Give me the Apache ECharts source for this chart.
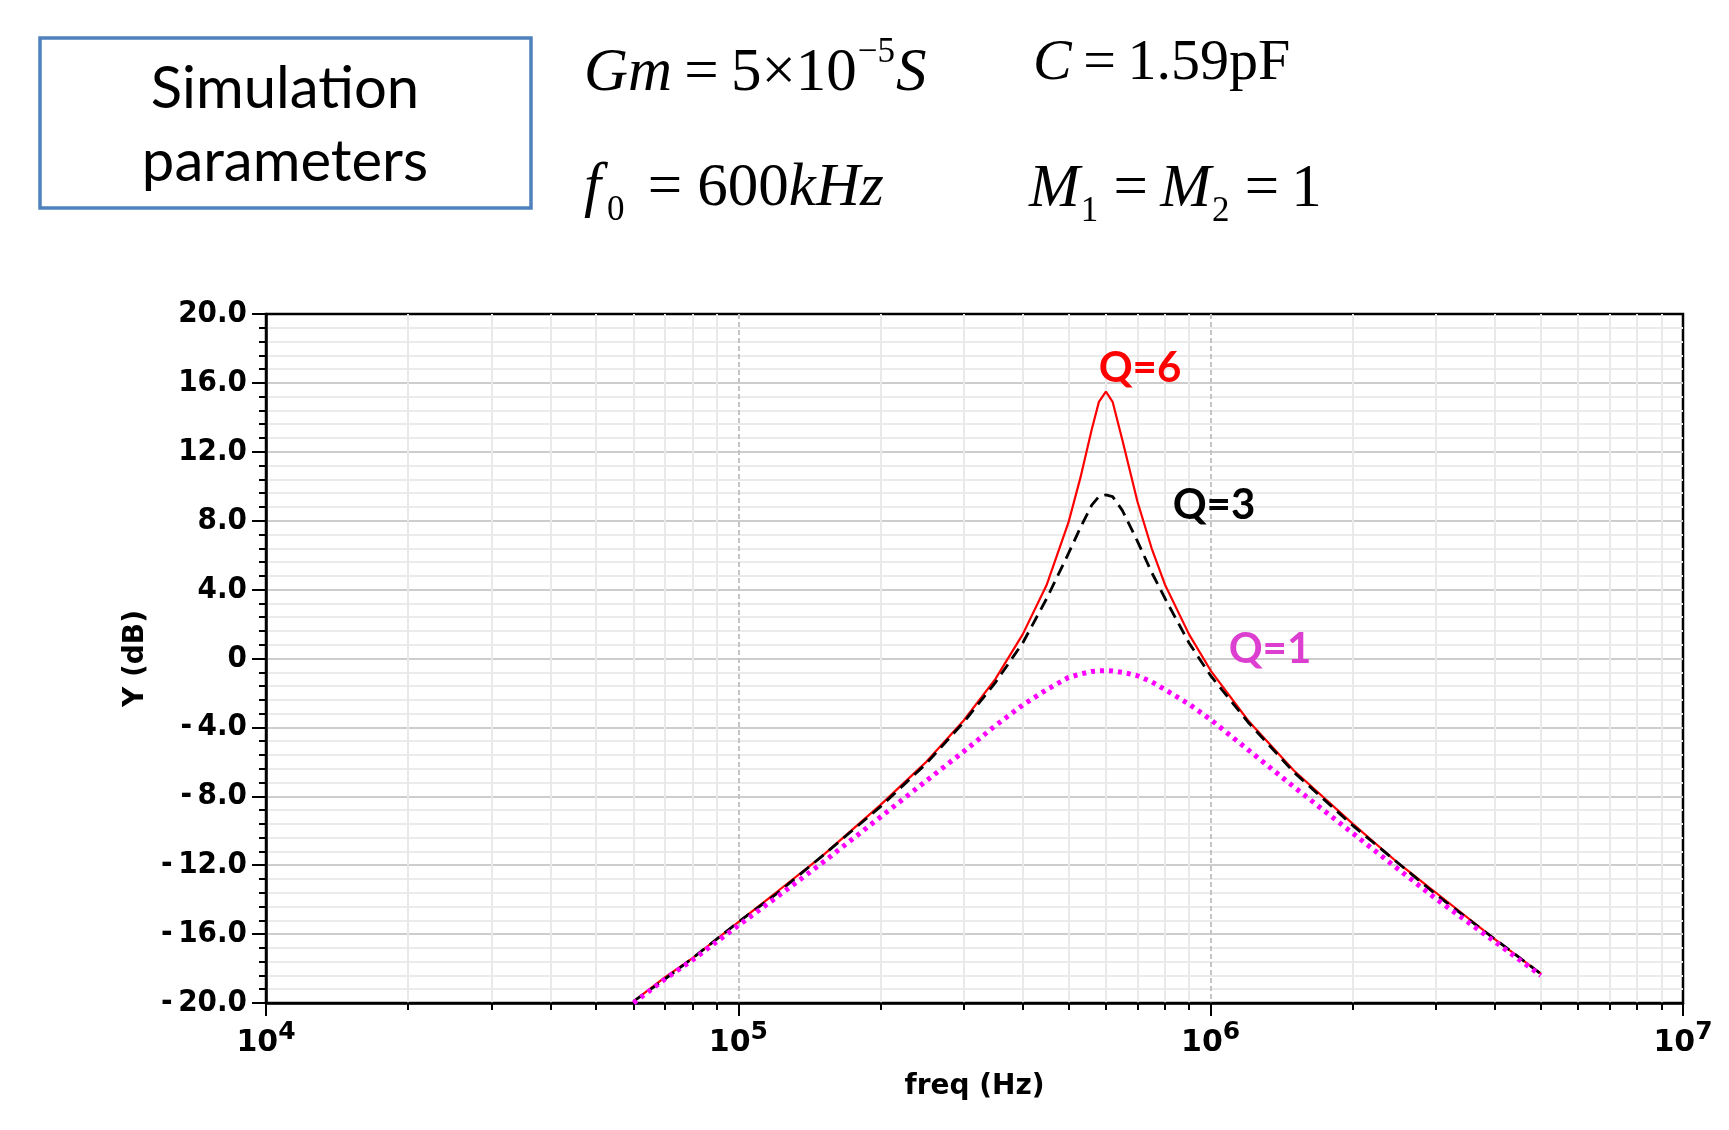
<!DOCTYPE html>
<html>
<head>
<meta charset="utf-8">
<title>Q response</title>
<script src="https://cdn.jsdelivr.net/npm/echarts@6/dist/echarts.min.js"></script>
<style>
html, body {margin:0; padding:0; background:#fff;}
#main {width:1729px; height:1130px;}
</style>
</head>
<body>
<div id="main"></div>
<script>
// frequency points (Hz)
var freqList = [6e4, 7e4, 8e4, 1e5, 1.2e5, 1.5e5, 2e5, 2.5e5, 3e5, 3.5e5, 4e5, 4.5e5, 5e5, 5.3e5, 5.6e5, 5.8e5,
	6e5, 6.2e5, 6.5e5, 7e5, 7.5e5, 8e5, 9e5, 1e6, 1.2e6, 1.5e6, 2e6, 2.5e6, 3e6, 4e6, 5e6];
// Y (dB)
var q6List = [-19.9, -18.5, -17.4, -15.3, -13.6, -11.5, -8.5, -6.0, -3.6, -1.2, 1.4, 4.3, 7.9, 10.5, 13.3, 14.9,
	15.5, 14.9, 12.7, 9.1, 6.4, 4.3, 1.4, -0.7, -3.6, -6.5, -9.6, -11.9, -13.6, -16.3, -18.3];
var q3List = [-19.9, -18.6, -17.4, -15.3, -13.7, -11.5, -8.6, -6.1, -3.7, -1.4, 0.9, 3.5, 6.1, 7.6, 8.9, 9.4,
	9.5, 9.4, 8.6, 6.8, 5.0, 3.5, 0.9, -1.0, -3.7, -6.6, -9.7, -11.9, -13.7, -16.3, -18.3];
var q1List = [-20.0, -18.6, -17.5, -15.5, -13.9, -11.9, -9.2, -7.1, -5.4, -3.9, -2.7, -1.8, -1.1, -0.9, -0.75, -0.72,
	-0.7, -0.72, -0.8, -1.0, -1.35, -1.8, -2.65, -3.55, -5.3, -7.45, -10.15, -12.25, -13.95, -16.45, -18.4];
var decadeList = [4, 5, 6];
var minorMantissa = [2, 3, 4, 5, 6, 7, 8, 9];

var COND_FONT = "'DejaVu Sans Condensed', 'DejaVu Sans', sans-serif";
var AXIS_FONT = "'DejaVu Sans', sans-serif";
var SERIF = "'Liberation Serif', 'DejaVu Serif', serif";
var LABEL_FONT = "Lato, 'Open Sans', sans-serif";

function toPairs(xs, ys) {
	return xs.map(function (x, i) { return [x, ys[i]]; });
}

// minor tick positions (log10 space) for the helper axis
var minorPos = [];
decadeList.forEach(function (d) {
	minorMantissa.forEach(function (m) { minorPos.push(d + Math.log10(m)); });
});

var myChart = echarts.init(document.getElementById('main'));

function rs(size, extra) {
	var o = {fontFamily: SERIF, fontSize: size, color: '#000'};
	for (var k in extra) o[k] = extra[k];
	return o;
}

var option = {
	backgroundColor: '#fff',
	animation: false,
	grid: {
		left: 266, top: 314, width: 1417, height: 689,
		show: true, borderColor: '#000', borderWidth: 2.5, backgroundColor: 'transparent'
	},
	xAxis: [
		{
			type: 'log', logBase: 10, min: 1e4, max: 1e7,
			name: 'freq (Hz)', nameLocation: 'middle', nameGap: 70,
			nameTextStyle: {fontFamily: AXIS_FONT, fontWeight: 'bold', fontSize: 28, color: '#000'},
			axisLine: {onZero: false, lineStyle: {color: '#000', width: 2.5}},
			axisTick: {length: 13, lineStyle: {color: '#000', width: 2}},
			axisLabel: {
				margin: 17,
				formatter: function (v) {
					return '{b|10}{s|' + Math.round(Math.log10(v)) + '}';
				},
				rich: {
					b: {fontFamily: AXIS_FONT, fontWeight: 'bold', fontSize: 30, color: '#000', padding: [8, 0, 0, 0]},
					s: {fontFamily: AXIS_FONT, fontWeight: 'bold', fontSize: 25, color: '#000', verticalAlign: 'top'}
				}
			},
			splitLine: {show: true, showMinLine: false, showMaxLine: false,
				lineStyle: {color: '#c4c4c4', width: 2, type: [5, 3]}}
		},
		{
			// helper axis for the 2..9 minor ticks and grid lines
			type: 'value', min: 4, max: 7, position: 'bottom',
			axisLine: {show: false, onZero: false},
			axisLabel: {show: false},
			axisTick: {show: true, length: 7, customValues: minorPos, lineStyle: {color: '#000', width: 2}},
			splitLine: {show: true, lineStyle: {color: '#e9e9e9', width: 2}}
		}
	],
	yAxis: {
		type: 'value', min: -20, max: 20, interval: 4,
		name: 'Y (dB)', nameLocation: 'middle', nameGap: 115,
		nameTextStyle: {fontFamily: AXIS_FONT, fontWeight: 'bold', fontSize: 28, color: '#000'},
		axisLine: {show: true, onZero: false, lineStyle: {color: '#000', width: 2.5}},
		axisTick: {show: true, length: 14, lineStyle: {color: '#000', width: 2}},
		minorTick: {show: true, splitNumber: 5, length: 7, lineStyle: {color: '#000', width: 2}},
		axisLabel: {
			margin: 19,
			fontFamily: COND_FONT, fontWeight: 'bold', fontSize: 31, color: '#000',
			formatter: function (v) {
				if (v === 0) return '0';
				return v < 0 ? '-\u2009' + Math.abs(v).toFixed(1) : v.toFixed(1);
			}
		},
		splitLine: {show: true, showMinLine: false, showMaxLine: false, lineStyle: {color: '#cdcdcd', width: 2}},
		minorSplitLine: {show: true, lineStyle: {color: '#ebebeb', width: 2}}
	},
	series: [
		{
			name: 'Q=6', type: 'line', xAxisIndex: 0, showSymbol: false, data: toPairs(freqList, q6List),
			lineStyle: {color: '#ff0000', width: 2.2}
		},
		{
			name: 'Q=3', type: 'line', xAxisIndex: 0, showSymbol: false, data: toPairs(freqList, q3List),
			lineStyle: {color: '#000', width: 2.8, type: [12, 7]}
		},
		{
			name: 'Q=1', type: 'line', xAxisIndex: 0, showSymbol: false, data: toPairs(freqList, q1List),
			lineStyle: {color: '#ff00ff', width: 5, type: [4, 5], cap: 'butt'}
		}
	],
	graphic: [
		{type: 'rect', shape: {x: 40, y: 38, width: 491, height: 170},
			style: {fill: 'none', stroke: '#4f81bd', lineWidth: 3.5}},
		{type: 'text', x: 285, y: 89, style: {text: 'Simulation', font: '58px ' + LABEL_FONT,
			fill: '#000', align: 'center', verticalAlign: 'middle'}},
		{type: 'text', x: 285, y: 162, style: {text: 'parameters', font: '58px ' + LABEL_FONT,
			fill: '#000', align: 'center', verticalAlign: 'middle'}},
		{type: 'text', x: 584, y: 35, style: {
			text: '{i|Gm}{r|\u2009=\u20095×10}{sup|−5}{i|S}', align: 'left', verticalAlign: 'top',
			rich: {
				i: rs(61, {fontStyle: 'italic', padding: [8, 0, 0, 0]}), r: rs(61, {padding: [8, 0, 0, 0]}),
				sup: rs(35, {verticalAlign: 'top', padding: [0, 1, 0, 1]})
			}}},
		{type: 'text', x: 1033, y: 35, style: {
			text: '{i|C}{r|\u2009=\u20091.59pF}', align: 'left', verticalAlign: 'top',
			rich: {i: rs(58, {fontStyle: 'italic'}), r: rs(58, {})}}},
		{type: 'text', x: 584, y: 158, style: {
			text: '{i|f}{sub|0}{r| = 600}{i|kHz}', align: 'left', verticalAlign: 'top',
			rich: {
				i: rs(61, {fontStyle: 'italic', padding: [0, 0, 9, 0]}), r: rs(61, {padding: [0, 0, 9, 0]}),
				sub: rs(35, {verticalAlign: 'bottom', padding: [0, 8, 0, 6]})
			}}},
		{type: 'text', x: 1029, y: 159, style: {
			text: '{i|M}{sub|1}{r| =\u2009}{i|M}{sub|2}{r| =\u20091}', align: 'left', verticalAlign: 'top',
			rich: {
				i: rs(61, {fontStyle: 'italic', padding: [0, 0, 9, 0]}), r: rs(61, {padding: [0, 0, 9, 0]}),
				sub: rs(35, {verticalAlign: 'bottom', padding: [0, 0, 0, 1]})
			}}},
		{type: 'text', x: 1140, y: 368, z: 10, style: {text: 'Q=6', font: 'bold 42px ' + LABEL_FONT,
			fill: '#ff0000', align: 'center', verticalAlign: 'middle'}},
		{type: 'text', x: 1214, y: 505, z: 10, style: {text: 'Q=3', font: 'bold 42px ' + LABEL_FONT,
			fill: '#000', align: 'center', verticalAlign: 'middle'}},
		{type: 'text', x: 1270, y: 649, z: 10, style: {text: 'Q=1', font: 'bold 42px ' + LABEL_FONT,
			fill: '#dc3fcf', align: 'center', verticalAlign: 'middle'}}
	]
};
myChart.setOption(option);
</script>
</body>
</html>
